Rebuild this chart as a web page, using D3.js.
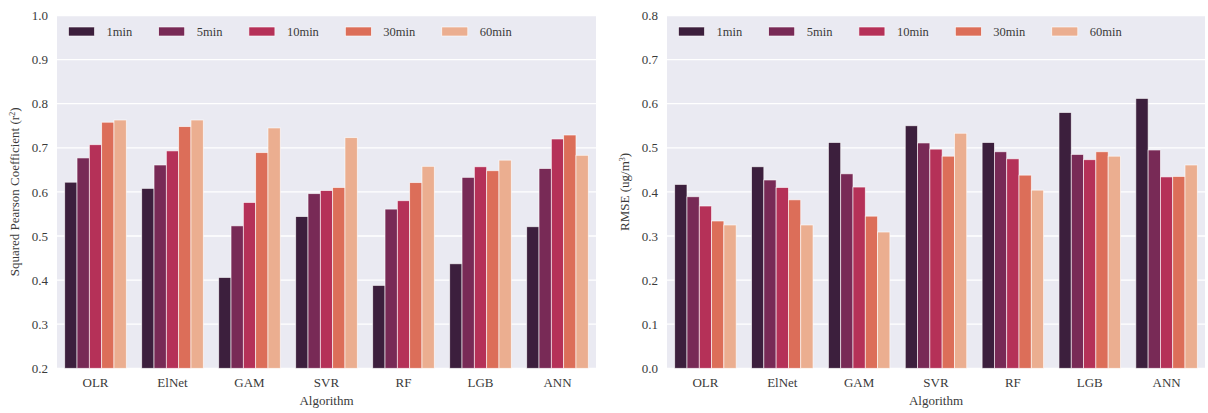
<!DOCTYPE html>
<html>
<head>
<meta charset="utf-8">
<script src="https://cdn.jsdelivr.net/npm/d3@7"></script>
<style>
  html, body { margin: 0; padding: 0; background: #ffffff; }
  svg text { font-family: "Liberation Serif", "Times New Roman", Times, serif; fill: #3a3a3a; }
</style>
</head>
<body>
<svg id="chart" width="1208" height="413"></svg>
<script>
// Algorithms compared and the averaging intervals
const algorithms = ["OLR", "ElNet", "GAM", "SVR", "RF", "LGB", "ANN"];
const intervals = ["1min", "5min", "10min", "30min", "60min"];
const colors = ["#3c1f3d", "#782a56", "#b53158", "#dc6e59", "#ebae90"];

// Squared Pearson coefficient, one array per interval (order of algorithms)
const r2_1min  = [0.622, 0.608, 0.406, 0.544, 0.388, 0.437, 0.521];
const r2_5min  = [0.677, 0.661, 0.523, 0.596, 0.561, 0.633, 0.653];
const r2_10min = [0.707, 0.693, 0.576, 0.603, 0.580, 0.657, 0.720];
const r2_30min = [0.758, 0.748, 0.689, 0.610, 0.621, 0.648, 0.729];
const r2_60min = [0.763, 0.763, 0.745, 0.723, 0.658, 0.672, 0.683];

// RMSE, one array per interval
const rmse_1min  = [0.417, 0.457, 0.512, 0.550, 0.512, 0.580, 0.612];
const rmse_5min  = [0.389, 0.427, 0.441, 0.511, 0.491, 0.485, 0.495];
const rmse_10min = [0.368, 0.410, 0.411, 0.497, 0.475, 0.473, 0.434];
const rmse_30min = [0.334, 0.382, 0.345, 0.481, 0.438, 0.491, 0.435];
const rmse_60min = [0.325, 0.325, 0.309, 0.533, 0.404, 0.481, 0.461];

const r2Ticks = [0.2, 0.3, 0.4, 0.5, 0.6, 0.7, 0.8, 0.9, 1.0];
const rmseTicks = [0.0, 0.1, 0.2, 0.3, 0.4, 0.5, 0.6, 0.7, 0.8];

const r2Series = [r2_1min, r2_5min, r2_10min, r2_30min, r2_60min];
const rmseSeries = [rmse_1min, rmse_5min, rmse_10min, rmse_30min, rmse_60min];

const FONT = '"Liberation Serif", "Times New Roman", Times, serif';
const svg = d3.select("#chart");

function panel(opts) {
  const { left, right, top, bottom, domain, ticks, series, yLabel, yLabelX } = opts;
  const g = svg.append("g").attr("font-family", FONT);

  const x0 = d3.scaleBand().domain(algorithms).range([left, right]).paddingInner(0).paddingOuter(0);
  const x1 = d3.scaleBand().domain(intervals).range([0, x0.bandwidth() * 0.8]);
  const y = d3.scaleLinear().domain(domain).range([bottom, top]);

  // background
  g.append("rect")
    .attr("x", left).attr("y", top)
    .attr("width", right - left).attr("height", bottom - top)
    .attr("fill", "#eaeaf2");

  // horizontal grid
  g.append("g").selectAll("line").data(ticks).join("line")
    .attr("x1", left).attr("x2", right)
    .attr("y1", d => y(d)).attr("y2", d => y(d))
    .attr("stroke", "#ffffff").attr("stroke-width", 1.3);

  // y axis
  const yAxis = d3.axisLeft(y).tickValues(ticks).tickFormat(d3.format(".1f")).tickSize(0).tickPadding(9);
  const ya = g.append("g").attr("transform", `translate(${left},0)`).call(yAxis);
  ya.attr("font-family", FONT);
  ya.select(".domain").remove();
  ya.selectAll("text").style("font-size", "13px").style("font-family", FONT).attr("fill", "#3a3a3a");

  // x axis
  const xAxis = d3.axisBottom(x0).tickSize(0).tickPadding(9);
  const xa = g.append("g").attr("transform", `translate(0,${bottom})`).call(xAxis);
  xa.attr("font-family", FONT);
  xa.select(".domain").remove();
  xa.selectAll("text").style("font-size", "13px").style("font-family", FONT).attr("fill", "#3a3a3a");

  // bars
  series.forEach((vals, si) => {
    g.append("g").selectAll("rect").data(algorithms).join("rect")
      .attr("x", (d) => x0(d) + x0.bandwidth() * 0.1 + x1(intervals[si]))
      .attr("width", x1.bandwidth())
      .attr("y", (d, i) => y(vals[i]))
      .attr("height", (d, i) => y(domain[0]) - y(vals[i]))
      .attr("fill", colors[si])
      .attr("stroke", "#ffffff").attr("stroke-opacity", 0.75).attr("stroke-width", 0.8);
  });

  // axis titles
  g.append("text")
    .attr("x", (left + right) / 2).attr("y", bottom + 37)
    .attr("text-anchor", "middle").style("font-size", "13px")
    .text("Algorithm");

  const yl = g.append("text")
    .attr("transform", `translate(${yLabelX},${(top + bottom) / 2}) rotate(-90)`)
    .attr("text-anchor", "middle").style("font-size", "13px");
  yLabel(yl);

  // legend
  const lg = g.append("g").attr("transform", `translate(${left + 11.5},${top + 16})`);
  let cx = 0;
  intervals.forEach((name, i) => {
    lg.append("rect").attr("x", cx).attr("y", -4.5).attr("width", 26).attr("height", 9)
      .attr("fill", colors[i]).attr("stroke", "#ffffff").attr("stroke-width", 0.6);
    const t = lg.append("text").attr("x", cx + 38).attr("y", 4.5)
      .style("font-size", "12.5px").text(name);
    cx += 38 + t.node().getComputedTextLength() + 26.5;
  });
}

panel({
  left: 57, right: 596, top: 15.5, bottom: 368.3,
  domain: [0.2, 1.0], ticks: r2Ticks, series: r2Series, yLabelX: 19,
  yLabel: t => {
    t.append("tspan").text("Squared Pearson Coefficient (r");
    t.append("tspan").attr("baseline-shift", "super").style("font-size", "8px").text("2");
    t.append("tspan").text(")");
  }
});

panel({
  left: 667, right: 1205, top: 15.5, bottom: 368.3,
  domain: [0.0, 0.8], ticks: rmseTicks, series: rmseSeries, yLabelX: 629,
  yLabel: t => {
    t.append("tspan").text("RMSE (ug/m");
    t.append("tspan").attr("baseline-shift", "super").style("font-size", "8px").text("3");
    t.append("tspan").text(")");
  }
});
</script>
</body>
</html>
